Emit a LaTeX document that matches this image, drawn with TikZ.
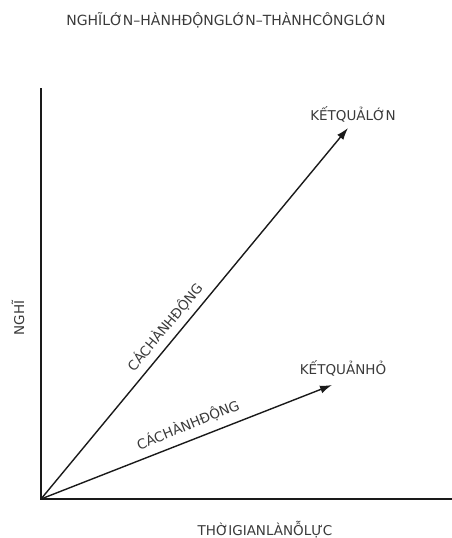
\documentclass[tikz,border=0pt]{standalone}
\usepackage{fontspec}
\setmainfont{DejaVu Sans}
\usetikzlibrary{arrows.meta,positioning,calc}
\definecolor{axink}{HTML}{1A1A1A}
\definecolor{txink}{HTML}{3A3A3A}

\begin{document}
\begin{tikzpicture}[
    x=1pt, y=-1pt,
    font=\fontsize{13.5}{15}\selectfont,
    axis/.style={
        draw=axink,
        line width=1.8pt
    },
    trend/.style={
        -{Latex[length=12pt,width=8pt]},
        draw=axink,
        line width=1.4pt
    },
    label/.style={
        text=txink,
        inner sep=1pt
    }
]
\useasboundingbox (0,0) rectangle (452,538);

\coordinate (o) at (41,499);
\coordinate (ytop) at (41,88);
\coordinate (xend) at (452,499);
\coordinate (big) at (348,128);
\coordinate (small) at (332,385);

\draw[axis] (ytop) -- (o) -- (xend);

\draw[trend] (o) -- (big);
\draw[trend] (o) -- (small);

\node[label, font=\fontsize{14}{16}\selectfont] (title) at (226,20) {NGHĨLỚN–HÀNHĐỘNGLỚN–THÀNHCÔNGLỚN};
\node[label] (bigres) at (353,114) {KẾTQUẢLỚN};
\node[label] (smallres) at (343,368) {KẾTQUẢNHỎ};
\node[label, rotate=90] (think) at (18,318) {NGHĨ};
\node[label] (time) at (265,530) {THỜIGIANLÀNỖLỰC};

\node[label, rotate=50.4] (bigact) at (165,327) {CÁCHÀNHĐỘNG};
\node[label, rotate=22] (smallact) at (188,425) {CÁCHÀNHĐỘNG};

\end{tikzpicture}
\end{document}
